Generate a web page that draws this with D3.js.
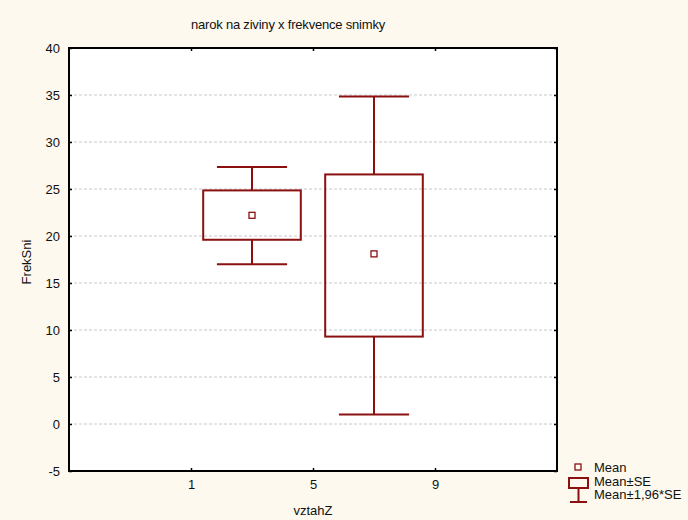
<!DOCTYPE html>
<html>
<head>
<meta charset="utf-8">
<script src="https://cdn.jsdelivr.net/npm/d3@7"></script>
<style>
  body { margin: 0; background: #fdf9ef; }
  svg { display: block; font-family: "Liberation Sans", Arial, sans-serif; }
</style>
</head>
<body>
<div id="chart"></div>
<script>
// data
let groupX = [3, 7];
let means = [22.2, 18.1];
let seLow = [19.6, 9.3];
let seHigh = [24.85, 26.55];
let ciLow = [17.0, 1.0];
let ciHigh = [27.35, 34.85];
let xTicks = [1, 5, 9];
let yTicks = [-5, 0, 5, 10, 15, 20, 25, 30, 35, 40];

let W = 688, H = 520;
let margin = {top: 48, right: 131, bottom: 49, left: 69},
    width = W - margin.left - margin.right,
    height = H - margin.top - margin.bottom;

let red = "#8b1010";

let svg = d3.select("#chart")
    .append("svg")
    .attr("width", W)
    .attr("height", H);

svg.append("rect").attr("width", W).attr("height", H).attr("fill", "#fdf9ef");

let g = svg.append("g")
    .attr("transform", "translate(" + margin.left + "," + margin.top + ")");

let x = d3.scaleLinear().domain([-3, 13]).range([0, width]);
let y = d3.scaleLinear().domain([-5, 40]).range([height, 0]);

g.append("rect").attr("width", width).attr("height", height).attr("fill", "#fff");

// grid
g.selectAll(".grid")
    .data(yTicks.filter(d => d > -5 && d < 40))
    .enter().append("line")
    .attr("x1", 0).attr("x2", width)
    .attr("y1", d => y(d)).attr("y2", d => y(d))
    .attr("stroke", "#c8c8c8")
    .attr("stroke-dasharray", "3,2")
    .attr("stroke-width", 1);

// axes
let fontSz = "13px";
let yAxis = g.append("g")
    .call(d3.axisLeft(y).tickValues(yTicks).tickSize(-3).tickPadding(9).tickFormat(d => String(d)));
let yAxisR = g.append("g").attr("transform", "translate(" + width + ",0)")
    .call(d3.axisRight(y).tickValues(yTicks).tickSize(-3).tickFormat(""));
let xAxis = g.append("g").attr("transform", "translate(0," + height + ")")
    .call(d3.axisBottom(x).tickValues(xTicks).tickSize(-3).tickPadding(9).tickFormat(d => String(d)));
let xAxisT = g.append("g")
    .call(d3.axisTop(x).tickValues(xTicks).tickSize(-3).tickFormat(""));

[yAxis, yAxisR, xAxis, xAxisT].forEach(a => {
    a.select(".domain").remove();
    a.selectAll("line").attr("stroke", "#000").attr("stroke-width", 1.5);
    a.selectAll("text").attr("font-size", fontSz).attr("fill", "#111")
        .attr("font-family", "Liberation Sans, Arial, sans-serif");
});

// frame
g.append("rect").attr("width", width).attr("height", height)
    .attr("fill", "none").attr("stroke", "#000").attr("stroke-width", 2);

// boxes
let boxHalf = x(1.6) - x(0);
let capHalf = x(1.15) - x(0);

let items = g.selectAll(".item")
    .data(groupX.map((gx, i) => ({gx: gx, m: means[i], sl: seLow[i], sh: seHigh[i], cl: ciLow[i], ch: ciHigh[i]})))
    .enter().append("g");

items.append("line")
    .attr("x1", d => x(d.gx)).attr("x2", d => x(d.gx))
    .attr("y1", d => y(d.ch)).attr("y2", d => y(d.sh))
    .attr("stroke", red).attr("stroke-width", 2);
items.append("line")
    .attr("x1", d => x(d.gx)).attr("x2", d => x(d.gx))
    .attr("y1", d => y(d.sl)).attr("y2", d => y(d.cl))
    .attr("stroke", red).attr("stroke-width", 2);
items.append("line")
    .attr("x1", d => x(d.gx) - capHalf).attr("x2", d => x(d.gx) + capHalf)
    .attr("y1", d => y(d.ch)).attr("y2", d => y(d.ch))
    .attr("stroke", red).attr("stroke-width", 2);
items.append("line")
    .attr("x1", d => x(d.gx) - capHalf).attr("x2", d => x(d.gx) + capHalf)
    .attr("y1", d => y(d.cl)).attr("y2", d => y(d.cl))
    .attr("stroke", red).attr("stroke-width", 2);
items.append("rect")
    .attr("x", d => x(d.gx) - boxHalf).attr("width", 2 * boxHalf)
    .attr("y", d => y(d.sh)).attr("height", d => y(d.sl) - y(d.sh))
    .attr("fill", "none").attr("stroke", red).attr("stroke-width", 2);
items.append("rect")
    .attr("x", d => x(d.gx) - 3).attr("y", d => y(d.m) - 3)
    .attr("width", 6).attr("height", 6)
    .attr("fill", "#fff").attr("stroke", red).attr("stroke-width", 1.3);

// title and labels
svg.append("text").attr("x", 288).attr("y", 29).attr("text-anchor", "middle")
    .attr("font-size", "13px").attr("letter-spacing", "-0.2px").attr("fill", "#111")
    .text("narok na ziviny x frekvence snimky");
svg.append("text").attr("transform", "translate(31,262) rotate(-90)").attr("text-anchor", "middle")
    .attr("font-size", "13px").attr("fill", "#111").text("FrekSni");
svg.append("text").attr("x", 313).attr("y", 515).attr("text-anchor", "middle")
    .attr("font-size", "13px").attr("fill", "#111").text("vztahZ");

// legend
let lg = svg.append("g");
lg.append("rect").attr("x", 575).attr("y", 464).attr("width", 6).attr("height", 6)
    .attr("fill", "none").attr("stroke", red).attr("stroke-width", 1.3);
lg.append("rect").attr("x", 569).attr("y", 478).attr("width", 19).attr("height", 10)
    .attr("fill", "none").attr("stroke", red).attr("stroke-width", 2);
lg.append("line").attr("x1", 578.5).attr("x2", 578.5).attr("y1", 488).attr("y2", 502)
    .attr("stroke", red).attr("stroke-width", 2);
lg.append("line").attr("x1", 570).attr("x2", 587).attr("y1", 502).attr("y2", 502)
    .attr("stroke", red).attr("stroke-width", 2);
let legTexts = ["Mean", "Mean\u00b1SE", "Mean\u00b11,96*SE"];
lg.selectAll(".lt").data(legTexts).enter().append("text")
    .attr("x", 594).attr("y", (d, i) => 472 + i * 13.5)
    .attr("font-size", "13px").attr("fill", "#111").text(d => d);
</script>
</body>
</html>
